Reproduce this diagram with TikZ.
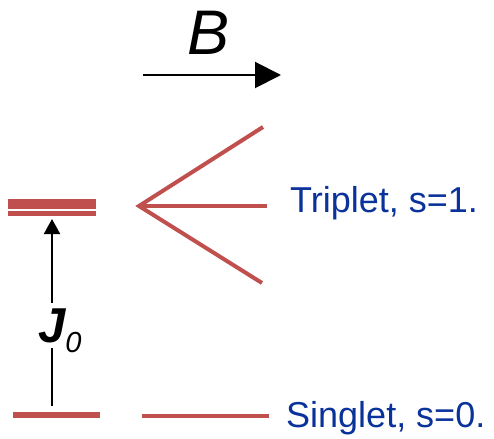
\documentclass[tikz,border=0pt]{standalone}
\usepackage{fontspec}
\setmainfont{Liberation Sans}
\usetikzlibrary{arrows.meta}
\definecolor{levelred}{RGB}{192,80,77}
\definecolor{labelblue}{RGB}{10,50,155}

\begin{document}
\begin{tikzpicture}[
        x=1pt, y=-1pt,
        level/.style={draw=levelred, line width=#1},
        level/.default=4pt,
        field/.style={draw=black, line width=2pt, -{Triangle[length=26pt,width=26pt]}},
        coupling/.style={draw=black, line width=2pt},
        state/.style={text=labelblue, font=\fontsize{36}{40}\selectfont, anchor=base west, inner sep=0pt}
    ]
    \useasboundingbox (0,0) rectangle (494,438);
    % magnetic field
    \coordinate (b_start) at (143,75);
    \coordinate (b_end) at (281,75);
    \draw[field] (b_start) -- (b_end);
    \node[inner sep=0pt, font=\fontsize{63}{70}\selectfont\itshape] (b_label) at (209,33) {B};
    % zero-field levels
    \coordinate (t_left) at (8,203.5);
    \coordinate (t_right) at (96,203.5);
    \coordinate (t2_left) at (8,213.5);
    \coordinate (t2_right) at (96,213.5);
    \coordinate (s_left) at (13,415);
    \coordinate (s_right) at (100,415);
    \draw[level=10pt] (t_left) -- (t_right);
    \draw[level=5pt] (t2_left) -- (t2_right);
    \draw[level=6pt] (s_left) -- (s_right);
    % exchange coupling
    \node[inner sep=0pt, anchor=base west] (j_label) at (38,342)
        {\fontsize{49}{50}\selectfont\bfseries\itshape J\raisebox{-10pt}{\fontsize{29}{30}\selectfont\mdseries\itshape 0}};
    \coordinate (j_low) at (52,406);
    \coordinate (j_gap_bot) at (52,348);
    \coordinate (j_gap_top) at (52,303);
    \coordinate (j_tip) at (52,219);
    \draw[coupling] (j_low) -- (j_gap_bot);
    \draw[coupling, -{Triangle[length=15pt,width=16pt]}] (j_gap_top) -- (j_tip);
    % splitting in field
    \coordinate (apex) at (139,206);
    \coordinate (m_up) at (263,127);
    \coordinate (m_zero) at (267,206);
    \coordinate (m_down) at (262,283);
    \draw[level, line join=miter] (m_up) -- (apex) -- (m_down);
    \draw[level] (apex) -- (m_zero);
    \coordinate (s2_left) at (142,415.5);
    \coordinate (s2_right) at (269,415.5);
    \draw[level] (s2_left) -- (s2_right);
    % state labels
    \node[state] (triplet) at (290,212) {Triplet, s=1.};
    \node[state] (singlet) at (286,427) {Singlet, s=0.};
\end{tikzpicture}
\end{document}
